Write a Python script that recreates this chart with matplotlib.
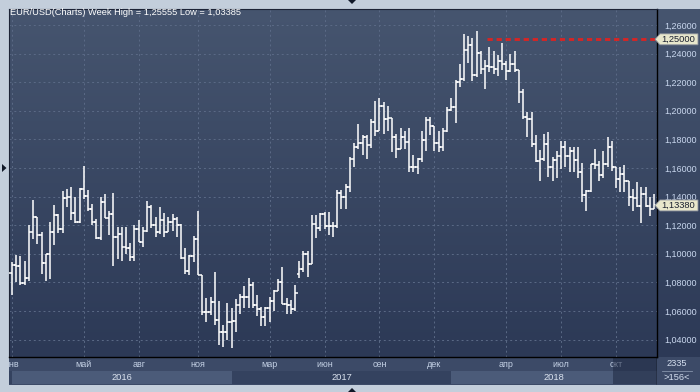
import matplotlib
matplotlib.use("Agg")
import matplotlib.pyplot as plt
import numpy as np
from matplotlib.patches import Polygon, Rectangle
from matplotlib.colors import to_rgb

plt.rcParams['font.family'] = ['Liberation Sans', 'DejaVu Sans']

# weekly EUR/USD bars, bar 0 = week of 4 Jan 2016
opens = [
    # 2016
    1.0865, 1.0920, 1.0915, 1.0795, 1.0830, 1.1155, 1.1255, 1.1130, 1.0935, 1.1000,
    1.1150, 1.1270, 1.1170, 1.1390, 1.1400, 1.1285, 1.1225, 1.1450, 1.1405, 1.1310,
    1.1220, 1.1110, 1.1365, 1.1250, 1.1275, 1.1115, 1.1140, 1.1050, 1.1040, 1.0975,
    1.1175, 1.1085, 1.1160, 1.1325, 1.1200, 1.1155, 1.1235, 1.1155, 1.1225, 1.1240,
    1.1200, 1.0970, 1.0880, 1.0985, 1.1100, 1.0850, 1.0590, 1.0590, 1.0665, 1.0540,
    1.0450, 1.0455,
    # 2017
    1.0520, 1.0530, 1.0645, 1.0700, 1.0700, 1.0780, 1.0640, 1.0615, 1.0560, 1.0620,
    1.0670, 1.0740, 1.0800, 1.0650, 1.0640, 1.0615, 1.0860, 1.0895, 1.0995, 1.0930,
    1.1210, 1.1180, 1.1280, 1.1195, 1.1195, 1.1195, 1.1425, 1.1400, 1.1470, 1.1665,
    1.1750, 1.1775, 1.1820, 1.1760, 1.1925, 1.1860, 1.2035, 1.1945, 1.1950, 1.1815,
    1.1730, 1.1820, 1.1785, 1.1610, 1.1610, 1.1665, 1.1795, 1.1935, 1.1895, 1.1775,
    1.1750, 1.1860,
    # 2018
    1.2005, 1.2030, 1.2200, 1.2220, 1.2425, 1.2460, 1.2250, 1.2405, 1.2295, 1.2315,
    1.2305, 1.2290, 1.2350, 1.2325, 1.2280, 1.2330, 1.2285, 1.2130, 1.1960, 1.1940,
    1.1770, 1.1650, 1.1660, 1.1770, 1.1610, 1.1655, 1.1685, 1.1745, 1.1685, 1.1720,
    1.1655, 1.1570, 1.1410, 1.1440, 1.1625, 1.1620, 1.1550, 1.1625, 1.1750, 1.1605,
    1.1525, 1.1560, 1.1510, 1.1400, 1.1390, 1.1335, 1.1415, 1.1335, 1.1315,
]
highs = [
    1.0945, 1.0990, 1.0985, 1.0950, 1.1200, 1.1376, 1.1260, 1.1150, 1.1000, 1.1220,
    1.1342, 1.1280, 1.1438, 1.1454, 1.1465, 1.1395, 1.1460, 1.1616, 1.1445, 1.1350,
    1.1240, 1.1395, 1.1415, 1.1300, 1.1427, 1.1185, 1.1185, 1.1185, 1.1075, 1.1198,
    1.1235, 1.1185, 1.1366, 1.1340, 1.1255, 1.1327, 1.1285, 1.1260, 1.1280, 1.1260,
    1.1210, 1.1040, 1.0990, 1.1125, 1.1300, 1.0850, 1.0690, 1.0700, 1.0875, 1.0670,
    1.0500, 1.0655,
    1.0620, 1.0685, 1.0720, 1.0775, 1.0830, 1.0800, 1.0710, 1.0630, 1.0630, 1.0700,
    1.0750, 1.0825, 1.0906, 1.0690, 1.0680, 1.0780, 1.0950, 1.1020, 1.1020, 1.1270,
    1.1270, 1.1285, 1.1295, 1.1295, 1.1225, 1.1445, 1.1445, 1.1490, 1.1680, 1.1775,
    1.1910, 1.1830, 1.1830, 1.1940, 1.2070, 1.2092, 1.2060, 1.2035, 1.1950, 1.1835,
    1.1880, 1.1860, 1.1880, 1.1690, 1.1670, 1.1860, 1.1960, 1.1960, 1.1895, 1.1860,
    1.1880, 1.2025,
    1.2090, 1.2215, 1.2325, 1.2537, 1.2520, 1.2510, 1.25555, 1.2415, 1.2355, 1.2445,
    1.2415, 1.2390, 1.2475, 1.2345, 1.2395, 1.2415, 1.2285, 1.2150, 1.1995, 1.1995,
    1.1830, 1.1725, 1.1840, 1.1850, 1.1675, 1.1720, 1.1790, 1.1790, 1.1745, 1.1750,
    1.1750, 1.1635, 1.1445, 1.1625, 1.1735, 1.1650, 1.1720, 1.1815, 1.1790, 1.1610,
    1.1610, 1.1620, 1.1510, 1.1455, 1.1500, 1.1470, 1.1470, 1.1400, 1.1420,
]
lows = [
    1.0710, 1.0800, 1.0780, 1.0780, 1.0810, 1.1100, 1.1065, 1.0860, 1.0810, 1.0822,
    1.1060, 1.1145, 1.1145, 1.1325, 1.1235, 1.1215, 1.1215, 1.1385, 1.1300, 1.1200,
    1.1100, 1.1095, 1.1250, 1.1130, 1.0912, 1.0960, 1.0950, 1.1000, 1.0952, 1.0952,
    1.1085, 1.1045, 1.1155, 1.1180, 1.1120, 1.1140, 1.1120, 1.1150, 1.1160, 1.1120,
    1.0960, 1.0860, 1.0850, 1.0940, 1.0850, 1.0570, 1.0520, 1.0570, 1.0505, 1.0365,
    1.0350, 1.0400,
    1.03385, 1.0455, 1.0580, 1.0620, 1.0620, 1.0620, 1.0565, 1.0495, 1.0495, 1.0525,
    1.0600, 1.0740, 1.0650, 1.0580, 1.0580, 1.0600, 1.0830, 1.0870, 1.0840, 1.0930,
    1.1110, 1.1160, 1.1170, 1.1130, 1.1120, 1.1180, 1.1310, 1.1310, 1.1430, 1.1610,
    1.1730, 1.1690, 1.1660, 1.1740, 1.1825, 1.1860, 1.1840, 1.1860, 1.1715, 1.1670,
    1.1730, 1.1730, 1.1575, 1.1575, 1.1555, 1.1640, 1.1720, 1.1830, 1.1720, 1.1715,
    1.1720, 1.1850,
    1.2000, 1.1915, 1.2165, 1.2210, 1.2335, 1.2205, 1.2235, 1.2260, 1.2155, 1.2270,
    1.2260, 1.2240, 1.2285, 1.2215, 1.2270, 1.2270, 1.2055, 1.1940, 1.1820, 1.1750,
    1.1645, 1.1510, 1.1650, 1.1540, 1.1510, 1.1530, 1.1590, 1.1610, 1.1575, 1.1575,
    1.1530, 1.1365, 1.1300, 1.1430, 1.1590, 1.1510, 1.1530, 1.1610, 1.1580, 1.1460,
    1.1430, 1.1430, 1.1335, 1.1300, 1.1330, 1.1215, 1.1325, 1.1265, 1.1310,
]
closes = [
    1.0920, 1.0915, 1.0795, 1.0830, 1.1155, 1.1255, 1.1130, 1.0935, 1.1000, 1.1150,
    1.1270, 1.1170, 1.1390, 1.1400, 1.1285, 1.1225, 1.1450, 1.1405, 1.1310, 1.1220,
    1.1110, 1.1365, 1.1250, 1.1275, 1.1115, 1.1140, 1.1050, 1.1040, 1.0975, 1.1175,
    1.1085, 1.1160, 1.1325, 1.1200, 1.1155, 1.1235, 1.1155, 1.1225, 1.1240, 1.1200,
    1.0970, 1.0880, 1.0985, 1.1100, 1.0850, 1.0590, 1.0590, 1.0665, 1.0540, 1.0450,
    1.0455, 1.0520,
    1.0530, 1.0645, 1.0700, 1.0700, 1.0780, 1.0640, 1.0615, 1.0560, 1.0620, 1.0670,
    1.0740, 1.0800, 1.0650, 1.0640, 1.0615, 1.0725, 1.0895, 1.0995, 1.0930, 1.1210,
    1.1180, 1.1280, 1.1195, 1.1195, 1.1195, 1.1425, 1.1400, 1.1470, 1.1665, 1.1750,
    1.1775, 1.1820, 1.1760, 1.1925, 1.1860, 1.2035, 1.1945, 1.1950, 1.1815, 1.1730,
    1.1820, 1.1785, 1.1610, 1.1610, 1.1665, 1.1795, 1.1935, 1.1895, 1.1775, 1.1750,
    1.1860, 1.2005,
    1.2030, 1.2200, 1.2220, 1.2425, 1.2460, 1.2250, 1.2405, 1.2295, 1.2315, 1.2305,
    1.2290, 1.2350, 1.2325, 1.2280, 1.2330, 1.2285, 1.2130, 1.1960, 1.1940, 1.1770,
    1.1650, 1.1660, 1.1770, 1.1610, 1.1655, 1.1685, 1.1745, 1.1685, 1.1720, 1.1655,
    1.1570, 1.1410, 1.1440, 1.1625, 1.1620, 1.1550, 1.1625, 1.1750, 1.1605, 1.1525,
    1.1560, 1.1510, 1.1400, 1.1390, 1.1335, 1.1415, 1.1335, 1.1315, 1.1338,
]

month_labels = ['янв', 'май', 'авг', 'ноя', 'мар', 'июн', 'сен', 'дек', 'апр', 'июл', 'окт']
month_bars = [0, 17, 30, 44, 61, 74, 87, 100, 117, 130, 143]
years = ['2016', '2017', '2018']
year_bars = [0, 52, 104]
price_ticks = [1.04, 1.06, 1.08, 1.10, 1.12, 1.14, 1.16, 1.18, 1.20, 1.22, 1.24, 1.26]
alert_level = 1.25
alert_from = 112.5
title = 'EUR/USD(Charts) Week High = 1,25555 Low = 1,03385'
corner_top = '2335'
corner_bottom = '>156<'

n = len(closes)
assert len(opens) == len(highs) == len(lows) == n
idx = np.arange(n)

W, H = 700, 392
def rect(x0, y0, x1, y1):
    return [x0 / W, 1 - y1 / H, (x1 - x0) / W, (y1 - y0) / H]

def gradient(ax, top, bottom):
    t = np.array(to_rgb(top)); b = np.array(to_rgb(bottom))
    f = np.linspace(0, 1, 256)[:, None, None]
    img = t * (1 - f) + b * f
    ax.imshow(img, extent=(0, 1, 0, 1), transform=ax.transAxes,
              aspect='auto', origin='upper', zorder=0, interpolation='bilinear')

fig = plt.figure(figsize=(7, 3.92), dpi=100, facecolor='#c3cedb')

XLIM = (-0.71, 152.7)
YLIM = (1.0278, 1.2712)

# right price panel (behind main axes)
pan = fig.add_axes(rect(657, 9, 700, 357), zorder=1)
gradient(pan, '#46556f', '#2c3956')
pan.set_axis_off()

ax = fig.add_axes(rect(9, 9, 657, 357), zorder=2)
gradient(ax, '#46556f', '#2c3956')

lab = '#c9d7ee'
for p in price_ticks:
    ax.axhline(p, color='#5b6a86', lw=0.7, ls=(0, (2, 3)), zorder=1)
for m in month_bars:
    ax.axvline(m, color='#5b6a86', lw=0.7, ls=(0, (2, 3)), zorder=1)

ax.vlines(idx, lows, highs, color='white', lw=1.1, zorder=3)
ax.hlines(opens, idx - 0.6, idx, color='white', lw=1.1, zorder=3)
ax.hlines(closes, idx, idx + 0.6, color='white', lw=1.1, zorder=3)

ax.hlines(alert_level, alert_from, XLIM[1], color='#d42626', lw=2.1,
          linestyles=(0, (1.8, 1.3)), zorder=4)

ax.set_xlim(*XLIM)
ax.set_ylim(*YLIM)
ax.set_xticks([])
ax.set_yticks(price_ticks)
ax.set_yticklabels([('%.5f' % p).replace('.', ',') for p in price_ticks])
ax.yaxis.tick_right()
ax.tick_params(axis='y', length=0, pad=5, labelsize=6.5, labelcolor=lab)
for s in ('left', 'top'):
    ax.spines[s].set_color('#1c2336')
for s in ('right', 'bottom'):
    ax.spines[s].set_color('black')
    ax.spines[s].set_linewidth(1.0)

ax.text(0.0015, 0.99, title, transform=ax.transAxes, ha='left', va='center',
        color='white', fontsize=6.7, zorder=5)

# price tags on the right scale
def tag(price):
    yc = ax.transData.transform((0, price))[1] / fig.dpi * 100
    inv = lambda x, y: (x / W, y / H)
    pts = [inv(655, yc), inv(660, yc + 5.5), inv(698, yc + 5.5), inv(698, yc - 5.5), inv(660, yc - 5.5)]
    fig.patches.append(Polygon(pts, closed=True, transform=fig.transFigure,
                               facecolor='#e8e7cc', edgecolor='#8a8f9a', lw=0.6, zorder=10))
    fig.text(661 / W, yc / H, ('%.5f' % price).replace('.', ','), ha='left', va='center',
             color='#1a2030', fontsize=6.7, zorder=11)

fig.canvas.draw()
tag(alert_level)
tag(closes[-1])

# bottom time strip
st = fig.add_axes(rect(9, 357, 657, 385), zorder=1)
st.set_facecolor('#3c4a67')
st.set_xlim(*XLIM)
st.set_ylim(0, 1)
st.set_xticks([]); st.set_yticks([])
for s in st.spines.values():
    s.set_visible(False)
st.add_patch(Rectangle((XLIM[0], 0.036), XLIM[1] - XLIM[0], 0.464,
                       facecolor='#34425f', edgecolor='none', zorder=1))
bounds = year_bars + [XLIM[1]]
for k, yr in enumerate(years):
    a, b = bounds[k], bounds[k + 1]
    if k % 2 == 0:
        st.add_patch(Rectangle((a, 0.036), b - a, 0.464, facecolor='#4b5b79',
                               edgecolor='none', zorder=2))
    st.text((a + b) / 2, 0.26, yr, ha='center', va='center', color='#dbe3ef',
            fontsize=6.7, zorder=3, clip_on=True)
for m, t in zip(month_bars, month_labels):
    st.text(m, 0.72, t, ha='center', va='center', color='#c3d0e4',
            fontsize=6.5, zorder=3, clip_on=True)
st.add_patch(Rectangle((142.2, 0.036), XLIM[1] - 142.2, 0.93, facecolor='#1e2842',
                       alpha=0.55, edgecolor='none', zorder=4))
st.axvline(XLIM[1], color='black', lw=1.0, zorder=5)

# corner box
cb = fig.add_axes(rect(657, 357, 700, 385), zorder=1)
cb.set_facecolor('#3c4a67')
cb.set_xlim(0, 1); cb.set_ylim(0, 1)
cb.set_xticks([]); cb.set_yticks([])
for s in cb.spines.values():
    s.set_visible(False)
cb.text(0.45, 0.76, corner_top, ha='center', va='center', color='#d4deee', fontsize=6.7)
cb.plot([0.12, 0.82], [0.5, 0.5], color='#8593ab', lw=0.6)
cb.text(0.45, 0.27, corner_bottom, ha='center', va='center', color='#d4deee', fontsize=6.7)

# small scroll markers on the frame
mk = '#101828'
for pts in ([(348, H), (356, H), (352, H - 4)],
            [(2, H - 164), (2, H - 172), (6.5, H - 168)],
            [(348, 0), (356, 0), (352, 4)]):
    fig.patches.append(Polygon([(x / W, y / H) for x, y in pts], closed=True,
                               transform=fig.transFigure, facecolor=mk, edgecolor='none'))

fig.savefig('out.png', dpi=100, facecolor=fig.get_facecolor())
